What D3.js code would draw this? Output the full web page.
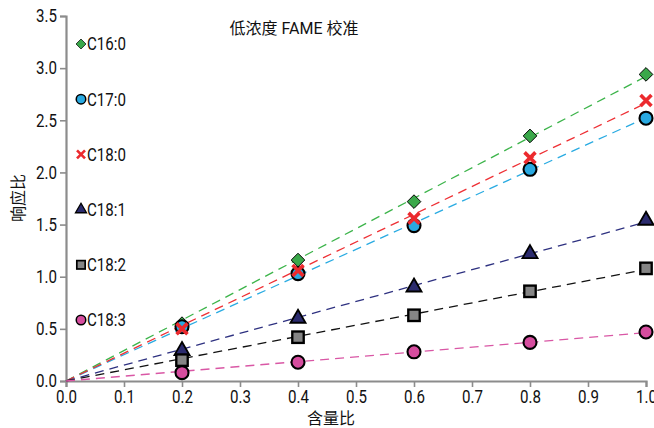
<!DOCTYPE html>
<html>
<head>
<meta charset="utf-8">
<script src="https://cdn.jsdelivr.net/npm/d3@7"></script>
<style>
  body { margin: 0; background: white; }
  text { font-family: Roboto, "Noto Sans CJK SC", sans-serif; }
  .narrow { transform-box: fill-box; transform: scaleX(0.84); }
  .narrow-mid { transform-origin: center; }
  .narrow-end { transform-origin: right center; }
  .narrow-start { transform-origin: left center; }
</style>
</head>
<body>
<div id="chartDiv" style="width:654px;height:428px"></div>
<script>
// x values (content ratio)
var contentRatio = [0.2, 0.4, 0.6, 0.8, 1.0];

// response ratio per FAME
var c160 = [0.55, 1.16, 1.72, 2.35, 2.94];
var c170 = [0.52, 1.03, 1.49, 2.03, 2.52];
var c180 = [0.50, 1.06, 1.56, 2.14, 2.69];
var c181 = [0.29, 0.60, 0.90, 1.22, 1.54];
var c182 = [0.20, 0.42, 0.63, 0.86, 1.08];
var c183 = [0.08, 0.18, 0.28, 0.37, 0.47];

var seriesNames = ["C16:0", "C17:0", "C18:0", "C18:1", "C18:2", "C18:3"];
var seriesValues = [c160, c170, c180, c181, c182, c183];

var xTicks = [0, 0.1, 0.2, 0.3, 0.4, 0.5, 0.6, 0.7, 0.8, 0.9, 1.0];
var yTicks = [0, 0.5, 1.0, 1.5, 2.0, 2.5, 3.0, 3.5];

// look of each series
var styles = [
  { shape: "diamond",  fill: "#3aa84a", line: "#3cb44a" },
  { shape: "circle",   fill: "#29a9e1", line: "#29abe2" },
  { shape: "cross",    fill: "#ec2a2e", line: "#ee3035" },
  { shape: "triangle", fill: "#2b2b6e", line: "#2e3180" },
  { shape: "square",   fill: "#858585", line: "#111111" },
  { shape: "circle",   fill: "#d64d9f", line: "#d957a5" }
];

function makeChart() {
  var width = 654, height = 428;
  var margin = { top: 16, right: 8, bottom: 47, left: 66 };

  var svg = d3.select("#chartDiv").append("svg")
    .attr("width", width)
    .attr("height", height);

  svg.append("rect").attr("width", width).attr("height", height).attr("fill", "white");

  var x = d3.scaleLinear().domain([0, 1]).range([margin.left, width - margin.right]);
  var y = d3.scaleLinear().domain([0, 3.5]).range([height - margin.bottom, margin.top]);

  // axes
  var xAxis = svg.append("g")
    .attr("transform", "translate(0," + (height - margin.bottom) + ")")
    .call(d3.axisBottom(x).tickValues(xTicks).tickFormat(d3.format(".1f")).tickSize(6).tickPadding(3));
  var yAxis = svg.append("g")
    .attr("transform", "translate(" + margin.left + ",0)")
    .call(d3.axisLeft(y).tickValues(yTicks).tickFormat(d3.format(".1f")).tickSize(6).tickPadding(3));

  [xAxis, yAxis].forEach(function(a) {
    a.select(".domain").attr("stroke", "#8c8c8c").attr("stroke-width", 2.2);
    a.selectAll(".tick line").attr("stroke", "#8c8c8c").attr("stroke-width", 1.6);
    a.selectAll(".tick text").attr("fill", "#111").style("font-size", "18px")
      .style("font-family", "Roboto").classed("narrow", true);
  });
  xAxis.selectAll(".tick text").classed("narrow-mid", true);
  yAxis.selectAll(".tick text").classed("narrow-end", true);

  // fitted lines through origin
  var lineLayer = svg.append("g");
  seriesValues.forEach(function(vals, i) {
    var sxy = d3.sum(vals, function(v, j) { return v * contentRatio[j]; });
    var sxx = d3.sum(contentRatio, function(c) { return c * c; });
    var slope = sxy / sxx;
    lineLayer.append("line")
      .attr("x1", x(0)).attr("y1", y(0))
      .attr("x2", x(1)).attr("y2", y(slope))
      .attr("stroke", styles[i].line)
      .attr("stroke-width", 1.3)
      .attr("stroke-dasharray", "9,6");
  });

  function drawMarker(g, shape, fill, size) {
    if (shape === "circle") {
      g.append("circle").attr("r", size * 0.5).attr("fill", fill).attr("stroke", "#000").attr("stroke-width", size * 0.16);
    } else if (shape === "square") {
      var s = size * 0.88;
      g.append("rect").attr("x", -s / 2).attr("y", -s / 2).attr("width", s).attr("height", s)
        .attr("fill", fill).attr("stroke", "#000").attr("stroke-width", size * 0.18);
    } else if (shape === "diamond") {
      g.append("path").attr("d", d3.symbol().type(d3.symbolSquare).size(size * size * 0.55)())
        .attr("transform", "rotate(45)")
        .attr("fill", fill).attr("stroke", "#000").attr("stroke-width", size * 0.07);
    } else if (shape === "triangle") {
      g.append("path").attr("d", d3.symbol().type(d3.symbolTriangle).size(size * size * 0.58)())
        .attr("fill", fill).attr("stroke", "#000").attr("stroke-width", size * 0.14);
    } else if (shape === "cross") {
      var h = size * 0.42;
      g.append("path").attr("d", "M" + (-h) + "," + (-h) + "L" + h + "," + h + "M" + h + "," + (-h) + "L" + (-h) + "," + h)
        .attr("stroke", fill).attr("stroke-width", size * 0.28).attr("fill", "none");
    }
  }

  // data markers
  seriesValues.forEach(function(vals, i) {
    var grp = svg.append("g");
    vals.forEach(function(v, j) {
      var m = grp.append("g").attr("transform", "translate(" + x(contentRatio[j]) + "," + y(v) + ")");
      drawMarker(m, styles[i].shape, styles[i].fill, 13);
    });
  });

  // legend
  var legend = svg.append("g");
  seriesNames.forEach(function(name, i) {
    var ly = 44 + i * 55.2;
    var m = legend.append("g").attr("transform", "translate(81," + ly + ")");
    drawMarker(m, styles[i].shape, styles[i].fill, 9.5);
    legend.append("text").attr("x", 87).attr("y", ly).attr("dy", "0.36em")
      .attr("class", "narrow narrow-start")
      .style("font-size", "18px").attr("fill", "#111").text(name);
  });

  // title and axis labels
  svg.append("text").attr("x", 294).attr("y", 28).attr("dy", "0.36em")
    .attr("text-anchor", "middle").style("font-size", "16px").attr("fill", "#111")
    .text("低浓度 FAME 校准");
  svg.append("text").attr("x", 331).attr("y", 418).attr("dy", "0.36em")
    .attr("text-anchor", "middle").style("font-size", "16px").attr("fill", "#111")
    .text("含量比");
  svg.append("text").attr("transform", "translate(18,198) rotate(-90)").attr("dy", "0.36em")
    .attr("text-anchor", "middle").style("font-size", "16px").attr("fill", "#111")
    .text("响应比");
}

makeChart();
</script>
</body>
</html>
